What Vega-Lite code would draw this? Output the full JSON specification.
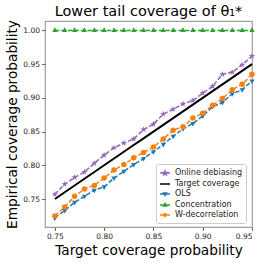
{
  "$schema": "https://vega.github.io/schema/vega-lite/v6.json",
  "width": 207,
  "height": 206,
  "autosize": {"type": "none"},
  "padding": {"left": 45, "top": 21, "right": 14, "bottom": 36},
  "background": "white",
  "title": {"text": "Lower tail coverage of θ₁*", "fontSize": 14.5, "fontWeight": "normal", "font": "DejaVu Sans", "anchor": "middle", "offset": 0.5, "color": "black"},
  "config": {
    "font": "DejaVu Sans",
    "view": {"stroke": "#a0a0a0", "strokeWidth": 1.2},
    "axis": {"grid": false, "domain": false, "tickColor": "#444", "tickSize": 3.5, "tickWidth": 0.8, "labelFont": "DejaVu Sans", "labelFontSize": 7.5, "labelColor": "#222", "labelPadding": 2, "titleFont": "DejaVu Sans", "titleFontSize": 13.7, "titleFontWeight": "normal", "titleColor": "black"},
    "legend": {"orient": "none", "legendX": 111, "legendY": 143, "fillColor": "white", "strokeColor": "#cccccc", "cornerRadius": 2, "padding": 3, "labelFont": "DejaVu Sans", "labelFontSize": 8, "labelColor": "#222", "labelOffset": 4, "symbolStrokeWidth": 1.5, "rowPadding": 0, "title": null}
  },
  "datasets": {
    "cov": [
      {"p": 0.75, "cov": 0.757, "method": "Online debiasing"},
      {"p": 0.76, "cov": 0.772, "method": "Online debiasing"},
      {"p": 0.77, "cov": 0.782, "method": "Online debiasing"},
      {"p": 0.78, "cov": 0.790, "method": "Online debiasing"},
      {"p": 0.79, "cov": 0.803, "method": "Online debiasing"},
      {"p": 0.80, "cov": 0.815, "method": "Online debiasing"},
      {"p": 0.81, "cov": 0.826, "method": "Online debiasing"},
      {"p": 0.82, "cov": 0.833, "method": "Online debiasing"},
      {"p": 0.83, "cov": 0.839, "method": "Online debiasing"},
      {"p": 0.84, "cov": 0.853, "method": "Online debiasing"},
      {"p": 0.85, "cov": 0.861, "method": "Online debiasing"},
      {"p": 0.86, "cov": 0.876, "method": "Online debiasing"},
      {"p": 0.87, "cov": 0.883, "method": "Online debiasing"},
      {"p": 0.88, "cov": 0.891, "method": "Online debiasing"},
      {"p": 0.89, "cov": 0.896, "method": "Online debiasing"},
      {"p": 0.90, "cov": 0.907, "method": "Online debiasing"},
      {"p": 0.91, "cov": 0.917, "method": "Online debiasing"},
      {"p": 0.92, "cov": 0.935, "method": "Online debiasing"},
      {"p": 0.93, "cov": 0.938, "method": "Online debiasing"},
      {"p": 0.94, "cov": 0.949, "method": "Online debiasing"},
      {"p": 0.95, "cov": 0.962, "method": "Online debiasing"},
      {"p": 0.75, "cov": 0.75, "method": "Target coverage"},
      {"p": 0.76, "cov": 0.76, "method": "Target coverage"},
      {"p": 0.77, "cov": 0.77, "method": "Target coverage"},
      {"p": 0.78, "cov": 0.78, "method": "Target coverage"},
      {"p": 0.79, "cov": 0.79, "method": "Target coverage"},
      {"p": 0.80, "cov": 0.80, "method": "Target coverage"},
      {"p": 0.81, "cov": 0.81, "method": "Target coverage"},
      {"p": 0.82, "cov": 0.82, "method": "Target coverage"},
      {"p": 0.83, "cov": 0.83, "method": "Target coverage"},
      {"p": 0.84, "cov": 0.84, "method": "Target coverage"},
      {"p": 0.85, "cov": 0.85, "method": "Target coverage"},
      {"p": 0.86, "cov": 0.86, "method": "Target coverage"},
      {"p": 0.87, "cov": 0.87, "method": "Target coverage"},
      {"p": 0.88, "cov": 0.88, "method": "Target coverage"},
      {"p": 0.89, "cov": 0.89, "method": "Target coverage"},
      {"p": 0.90, "cov": 0.90, "method": "Target coverage"},
      {"p": 0.91, "cov": 0.91, "method": "Target coverage"},
      {"p": 0.92, "cov": 0.92, "method": "Target coverage"},
      {"p": 0.93, "cov": 0.93, "method": "Target coverage"},
      {"p": 0.94, "cov": 0.94, "method": "Target coverage"},
      {"p": 0.95, "cov": 0.95, "method": "Target coverage"},
      {"p": 0.75, "cov": 0.722, "method": "OLS"},
      {"p": 0.76, "cov": 0.733, "method": "OLS"},
      {"p": 0.77, "cov": 0.745, "method": "OLS"},
      {"p": 0.78, "cov": 0.754, "method": "OLS"},
      {"p": 0.79, "cov": 0.763, "method": "OLS"},
      {"p": 0.80, "cov": 0.768, "method": "OLS"},
      {"p": 0.81, "cov": 0.781, "method": "OLS"},
      {"p": 0.82, "cov": 0.791, "method": "OLS"},
      {"p": 0.83, "cov": 0.801, "method": "OLS"},
      {"p": 0.84, "cov": 0.810, "method": "OLS"},
      {"p": 0.85, "cov": 0.820, "method": "OLS"},
      {"p": 0.86, "cov": 0.831, "method": "OLS"},
      {"p": 0.87, "cov": 0.843, "method": "OLS"},
      {"p": 0.88, "cov": 0.854, "method": "OLS"},
      {"p": 0.89, "cov": 0.862, "method": "OLS"},
      {"p": 0.90, "cov": 0.873, "method": "OLS"},
      {"p": 0.91, "cov": 0.887, "method": "OLS"},
      {"p": 0.92, "cov": 0.893, "method": "OLS"},
      {"p": 0.93, "cov": 0.906, "method": "OLS"},
      {"p": 0.94, "cov": 0.912, "method": "OLS"},
      {"p": 0.95, "cov": 0.925, "method": "OLS"},
      {"p": 0.75, "cov": 1.0, "method": "Concentration"},
      {"p": 0.76, "cov": 1.0, "method": "Concentration"},
      {"p": 0.77, "cov": 1.0, "method": "Concentration"},
      {"p": 0.78, "cov": 1.0, "method": "Concentration"},
      {"p": 0.79, "cov": 1.0, "method": "Concentration"},
      {"p": 0.80, "cov": 1.0, "method": "Concentration"},
      {"p": 0.81, "cov": 1.0, "method": "Concentration"},
      {"p": 0.82, "cov": 1.0, "method": "Concentration"},
      {"p": 0.83, "cov": 1.0, "method": "Concentration"},
      {"p": 0.84, "cov": 1.0, "method": "Concentration"},
      {"p": 0.85, "cov": 1.0, "method": "Concentration"},
      {"p": 0.86, "cov": 1.0, "method": "Concentration"},
      {"p": 0.87, "cov": 1.0, "method": "Concentration"},
      {"p": 0.88, "cov": 1.0, "method": "Concentration"},
      {"p": 0.89, "cov": 1.0, "method": "Concentration"},
      {"p": 0.90, "cov": 1.0, "method": "Concentration"},
      {"p": 0.91, "cov": 1.0, "method": "Concentration"},
      {"p": 0.92, "cov": 1.0, "method": "Concentration"},
      {"p": 0.93, "cov": 1.0, "method": "Concentration"},
      {"p": 0.94, "cov": 1.0, "method": "Concentration"},
      {"p": 0.95, "cov": 1.0, "method": "Concentration"},
      {"p": 0.75, "cov": 0.725, "method": "W-decorrelation"},
      {"p": 0.76, "cov": 0.738, "method": "W-decorrelation"},
      {"p": 0.77, "cov": 0.754, "method": "W-decorrelation"},
      {"p": 0.78, "cov": 0.765, "method": "W-decorrelation"},
      {"p": 0.79, "cov": 0.770, "method": "W-decorrelation"},
      {"p": 0.80, "cov": 0.781, "method": "W-decorrelation"},
      {"p": 0.81, "cov": 0.793, "method": "W-decorrelation"},
      {"p": 0.82, "cov": 0.801, "method": "W-decorrelation"},
      {"p": 0.83, "cov": 0.811, "method": "W-decorrelation"},
      {"p": 0.84, "cov": 0.819, "method": "W-decorrelation"},
      {"p": 0.85, "cov": 0.827, "method": "W-decorrelation"},
      {"p": 0.86, "cov": 0.839, "method": "W-decorrelation"},
      {"p": 0.87, "cov": 0.852, "method": "W-decorrelation"},
      {"p": 0.88, "cov": 0.857, "method": "W-decorrelation"},
      {"p": 0.89, "cov": 0.870, "method": "W-decorrelation"},
      {"p": 0.90, "cov": 0.877, "method": "W-decorrelation"},
      {"p": 0.91, "cov": 0.889, "method": "W-decorrelation"},
      {"p": 0.92, "cov": 0.899, "method": "W-decorrelation"},
      {"p": 0.93, "cov": 0.912, "method": "W-decorrelation"},
      {"p": 0.94, "cov": 0.920, "method": "W-decorrelation"},
      {"p": 0.95, "cov": 0.935, "method": "W-decorrelation"}
    ]
  },
  "data": {"name": "cov"},
  "encoding": {
    "x": {"field": "p", "type": "quantitative", "title": "Target coverage probability", "scale": {"domain": [0.74, 0.95], "nice": false, "zero": false}, "axis": {"values": [0.75, 0.8, 0.85, 0.9, 0.95], "format": ".2f", "titlePadding": 3}},
    "y": {"field": "cov", "type": "quantitative", "title": "Empirical coverage probability", "scale": {"domain": [0.7085, 1.0139], "nice": false, "zero": false}, "axis": {"values": [0.75, 0.8, 0.85, 0.9, 0.95, 1.0], "format": ".2f", "titlePadding": 3.5}}
  },
  "layer": [
    {
      "transform": [{"filter": "datum.method != 'Target coverage'"}],
      "mark": {"type": "line", "strokeWidth": 1.5},
      "encoding": {
        "color": {"field": "method", "type": "nominal", "scale": {"domain": ["Online debiasing", "Target coverage", "OLS", "Concentration", "W-decorrelation"], "range": ["#9467bd", "#000000", "#1f77b4", "#2ca02c", "#ff7f0e"]}, "legend": null},
        "strokeDash": {"field": "method", "type": "nominal", "scale": {"domain": ["Online debiasing", "Target coverage", "OLS", "Concentration", "W-decorrelation"], "range": [[4.5, 2], [1, 0], [4.5, 2], [4.5, 2], [4.5, 2]]}, "legend": null}
      }
    },
    {
      "transform": [{"filter": "datum.method == 'Target coverage'"}],
      "mark": {"type": "line", "strokeWidth": 2, "color": "black"},
      "encoding": {}
    },
    {
      "transform": [{"filter": "datum.method != 'Target coverage'"}],
      "mark": {"type": "point", "filled": true, "opacity": 1, "size": 30},
      "encoding": {
        "color": {"field": "method", "type": "nominal", "scale": {"domain": ["Online debiasing", "Target coverage", "OLS", "Concentration", "W-decorrelation"], "range": ["#9467bd", "#000000", "#1f77b4", "#2ca02c", "#ff7f0e"]}, "legend": null},
        "shape": {"field": "method", "type": "nominal", "scale": {"domain": ["Online debiasing", "Target coverage", "OLS", "Concentration", "W-decorrelation"], "range": ["M0,-1.2L0.282,-0.389L1.141,-0.371L0.456,0.149L0.706,0.971L0,0.48L-0.706,0.971L-0.456,0.149L-1.141,-0.371L-0.282,-0.389Z", "stroke", "M0,1.1L0.95,-0.55L-0.95,-0.55Z", "M0,-1.1L0.95,0.55L-0.95,0.55Z", "circle"]}, "legend": null}
      }
    },
    {
      "transform": [{"filter": "datum.method == 'none'"}],
      "mark": {"type": "point", "filled": true, "opacity": 1, "size": 310},
      "encoding": {
        "fill": {"field": "method", "type": "nominal", "scale": {"domain": ["Online debiasing", "Target coverage", "OLS", "Concentration", "W-decorrelation"], "range": ["#9467bd", "#000000", "#1f77b4", "#2ca02c", "#ff7f0e"]}},
        "stroke": {"field": "method", "type": "nominal", "scale": {"domain": ["Online debiasing", "Target coverage", "OLS", "Concentration", "W-decorrelation"], "range": ["#9467bd", "#000000", "#1f77b4", "#2ca02c", "#ff7f0e"]}},
        "shape": {"field": "method", "type": "nominal", "scale": {"domain": ["Online debiasing", "Target coverage", "OLS", "Concentration", "W-decorrelation"], "range": [
          "M-1,0H1M0,-0.38L0.09,-0.123L0.361,-0.117L0.144,0.047L0.223,0.307L0,0.152L-0.223,0.307L-0.144,0.047L-0.361,-0.117L-0.09,-0.123Z",
          "M-1,0H1",
          "M-1,0H1M0,0.3L0.28,-0.18L-0.28,-0.18Z",
          "M-1,0H1M0,-0.3L0.28,0.18L-0.28,0.18Z",
          "M-1,0H1M0.27,0A0.27,0.27,0,1,1,-0.27,0A0.27,0.27,0,1,1,0.27,0Z"
        ]}}
      }
    }
  ],
  "resolve": {"scale": {"shape": "independent", "fill": "independent", "stroke": "independent"}}
}
